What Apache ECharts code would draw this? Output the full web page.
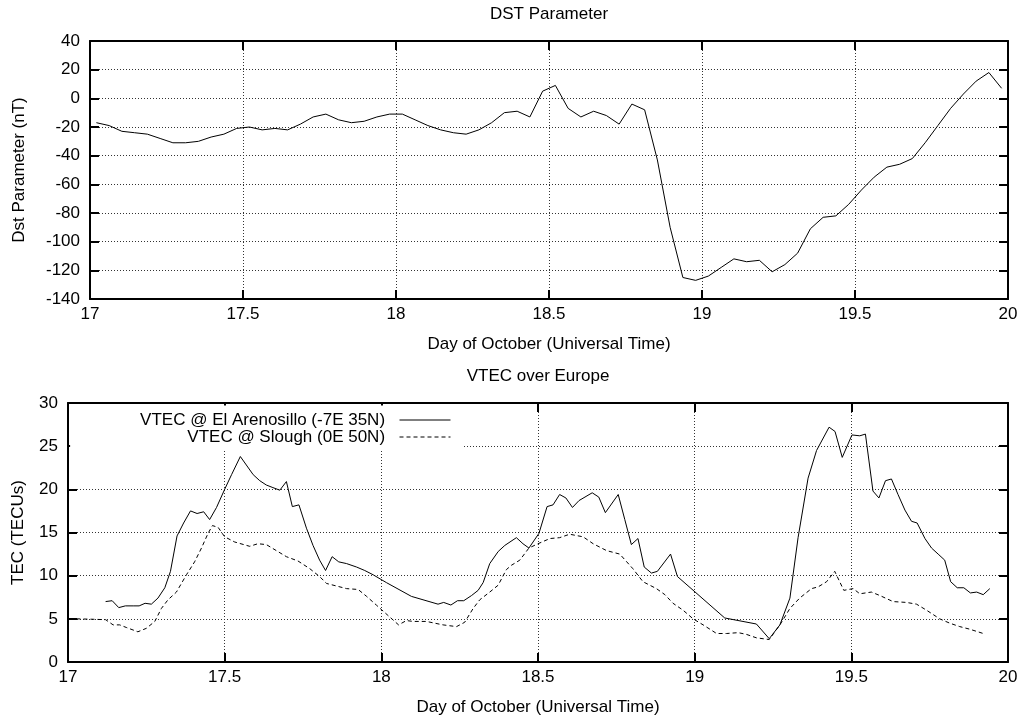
<!DOCTYPE html>
<html lang="en">
<head>
<meta charset="UTF-8">
<title>DST Parameter / VTEC over Europe</title>
<style>
  html, body { margin: 0; padding: 0; background: #fff; }
  #chart { width: 1023px; height: 719px; }
</style>
</head>
<body>
<div id="chart"></div>
<script src="https://cdn.jsdelivr.net/npm/echarts@6/dist/echarts.min.js"></script>
<script>
// hourly Dst index (nT), 17-19 October, one value per hour (centred on the half hour)
var dstFirstDay = 17;
var dstValues = [
  -17, -19, -23, -24, -25, -28, -31, -31, -30, -27, -25, -21,
  -20, -22, -21, -22, -18, -13, -11, -15, -17, -16, -13, -11,
  -11, -15, -19, -22, -24, -25, -22, -17, -10, -9, -13, 5,
  9, -7, -13, -9, -12, -18, -4, -8, -43, -90, -125, -127,
  -124, -118, -112, -114, -113, -121, -116, -108, -91, -83, -82, -74,
  -64, -55, -48, -46, -42, -31, -19, -7, 3, 12, 18, 7
];

// VTEC @ El Arenosillo
var arenosilloDay = [
  17.120, 17.141, 17.162, 17.183, 17.208, 17.227, 17.246, 17.266, 17.287, 17.309,
  17.327, 17.348, 17.369, 17.391, 17.412, 17.433, 17.452, 17.474, 17.500, 17.522,
  17.550, 17.591, 17.612, 17.633, 17.654, 17.676, 17.697, 17.716, 17.737, 17.761,
  17.782, 17.803, 17.822, 17.843, 17.864, 17.889, 17.921, 17.947, 17.974, 18.016,
  18.096, 18.181, 18.199, 18.222, 18.243, 18.263, 18.288, 18.309, 18.325, 18.346,
  18.373, 18.394, 18.431, 18.452, 18.471, 18.503, 18.529, 18.548, 18.569, 18.589,
  18.610, 18.631, 18.673, 18.694, 18.715, 18.756, 18.777, 18.798, 18.819, 18.839,
  18.862, 18.881, 18.923, 18.945, 19.096, 19.197, 19.238, 19.272, 19.304, 19.330,
  19.362, 19.389, 19.429, 19.448, 19.471, 19.502, 19.527, 19.545, 19.569, 19.588,
  19.609, 19.628, 19.649, 19.671, 19.692, 19.710, 19.735, 19.756, 19.777, 19.798,
  19.817, 19.838, 19.859, 19.880, 19.900, 19.921, 19.942
];
var arenosilloTec = [
  7.0, 7.1, 6.3, 6.5, 6.5, 6.5, 6.8, 6.7, 7.4, 8.6,
  10.5, 14.6, 16.1, 17.5, 17.2, 17.4, 16.5, 17.9, 20.0, 21.7,
  23.8, 21.7, 21.0, 20.5, 20.2, 19.9, 20.9, 18.0, 18.2, 15.5,
  13.5, 11.8, 10.6, 12.2, 11.6, 11.4, 11.0, 10.6, 10.1, 9.2,
  7.6, 6.7, 6.9, 6.6, 7.1, 7.1, 7.7, 8.3, 9.2, 11.4,
  12.8, 13.5, 14.4, 13.7, 13.2, 14.9, 18.0, 18.2, 19.4, 19.0,
  17.9, 18.7, 19.6, 19.1, 17.3, 19.4, 16.5, 13.6, 14.3, 11.0,
  10.3, 10.5, 12.5, 9.9, 5.1, 4.4, 2.7, 4.3, 7.4, 14.4,
  21.3, 24.5, 27.2, 26.7, 23.7, 26.3, 26.2, 26.4, 19.8, 19.0,
  21.0, 21.2, 19.4, 17.6, 16.3, 16.1, 14.3, 13.2, 12.5, 11.8,
  9.3, 8.6, 8.6, 8.0, 8.1, 7.8, 8.5
];

// VTEC @ Slough
var sloughDay = [
  17.027, 17.080, 17.120, 17.144, 17.165, 17.186, 17.223, 17.250, 17.277, 17.298,
  17.319, 17.346, 17.378, 17.404, 17.426, 17.447, 17.461, 17.479, 17.500, 17.532,
  17.580, 17.606, 17.633, 17.665, 17.697, 17.734, 17.772, 17.803, 17.825, 17.857,
  17.889, 17.926, 17.953, 17.984, 18.021, 18.055, 18.080, 18.101, 18.144, 18.170,
  18.197, 18.218, 18.240, 18.266, 18.293, 18.314, 18.346, 18.373, 18.399, 18.415,
  18.442, 18.471, 18.500, 18.538, 18.569, 18.601, 18.644, 18.676, 18.719, 18.761,
  18.803, 18.835, 18.878, 18.905, 18.931, 18.963, 18.995, 19.027, 19.070, 19.102,
  19.139, 19.165, 19.197, 19.238, 19.272, 19.304, 19.335, 19.373, 19.394, 19.421,
  19.447, 19.453, 19.476, 19.506, 19.527, 19.564, 19.591, 19.633, 19.676, 19.708,
  19.740, 19.782, 19.814, 19.846, 19.878, 19.921
];
var sloughTec = [
  5.0, 4.95, 4.9, 4.3, 4.3, 4.0, 3.5, 3.9, 4.7, 6.2,
  7.2, 8.1, 10.1, 11.6, 13.2, 14.9, 15.8, 15.6, 14.5, 13.9,
  13.4, 13.7, 13.6, 12.9, 12.2, 11.7, 10.8, 9.9, 9.1, 8.8,
  8.5, 8.4, 7.6, 6.6, 5.4, 4.3, 4.8, 4.7, 4.7, 4.5,
  4.3, 4.2, 4.1, 4.6, 6.2, 7.2, 8.1, 8.9, 10.7, 11.2,
  11.8, 13.2, 13.7, 14.3, 14.4, 14.8, 14.5, 13.7, 12.9, 12.5,
  10.8, 9.3, 8.5, 7.8, 6.8, 6.0, 5.0, 4.3, 3.3, 3.3,
  3.4, 3.2, 2.8, 2.6, 4.3, 6.2, 7.4, 8.5, 8.7, 9.3,
  10.5, 10.3, 8.3, 8.5, 7.9, 8.1, 7.7, 7.0, 6.9, 6.7,
  6.0, 5.0, 4.5, 4.1, 3.8, 3.3
];

var arenosilloName = 'VTEC @ El Arenosillo (-7E 35N)';
var sloughName = 'VTEC @ Slough (0E 50N)';
var dayName = 'Day of October (Universal Time)';

var chart = echarts.init(document.getElementById('chart'));

var FONT = 'Liberation Sans';
var txt = { color: '#000', fontFamily: FONT, fontSize: 17, fontWeight: 'normal' };
var frame = { show: true, onZero: false, lineStyle: { color: '#000', width: 2 } };
var tick = { show: true, inside: true, length: 9, lineStyle: { color: '#000', width: 2 } };
var grid = { show: true, lineStyle: { color: '#333', width: 1, type: [1, 2] } };

function pairs(xs, ys) {
  return xs.map(function (x, i) { return [x, ys[i]]; });
}
var dstData = dstValues.map(function (v, i) { return [dstFirstDay + (i + 0.5) / 24, v]; });

function dayAxes(gi) {
  return [
    { type: 'value', gridIndex: gi, position: 'bottom', min: 17, max: 20, interval: 0.5,
      axisLine: frame, axisTick: tick, splitLine: grid,
      axisLabel: Object.assign({ margin: 7 }, txt),
      name: dayName, nameLocation: 'middle', nameGap: 37, nameTextStyle: txt },
    { type: 'value', gridIndex: gi, position: 'top', min: 17, max: 20, interval: 0.5,
      axisLine: frame, axisTick: tick, splitLine: { show: false }, axisLabel: { show: false } }
  ];
}
function valueAxes(gi, min, max, step, name, gap) {
  return [
    { type: 'value', gridIndex: gi, position: 'left', min: min, max: max, interval: step,
      axisLine: frame, axisTick: tick, splitLine: grid,
      axisLabel: Object.assign({ margin: 10 }, txt),
      name: name, nameLocation: 'middle', nameRotate: 90, nameGap: gap, nameTextStyle: txt },
    { type: 'value', gridIndex: gi, position: 'right', min: min, max: max, interval: step,
      axisLine: frame, axisTick: tick, splitLine: { show: false }, axisLabel: { show: false } }
  ];
}

var option = {
  animation: false,
  textStyle: { fontFamily: FONT },
  title: [
    { text: 'DST Parameter', left: 549, top: 6, textAlign: 'center', padding: 0, textStyle: txt },
    { text: 'VTEC over Europe', left: 538, top: 368, textAlign: 'center', padding: 0, textStyle: txt }
  ],
  // key box: white background keeps the grid out of it, like gnuplot does
  legend: {
    data: [arenosilloName, sloughName],
    orient: 'vertical', align: 'right',
    right: 561, top: 405.5, padding: [6, 11, 4, 70],
    backgroundColor: '#fff',
    itemWidth: 51, itemHeight: 10, itemGap: 0,
    selectedMode: false,
    textStyle: Object.assign({ lineHeight: 17 }, txt),
    formatter: function (n) { return n + '  '; },
    itemStyle: { opacity: 0 },
    lineStyle: { width: 1 }
  },
  grid: [
    { left: 90, right: 15, top: 41, height: 258 },
    { left: 68, right: 15, top: 403, height: 259 }
  ],
  xAxis: dayAxes(0).concat(dayAxes(1)),
  yAxis: valueAxes(0, -140, 40, 20, 'Dst Parameter (nT)', 62)
    .concat(valueAxes(1, 0, 30, 5, 'TEC (TECUs)', 41)),
  series: [
    { name: 'Dst', type: 'line', xAxisIndex: 0, yAxisIndex: 0, data: dstData,
      symbol: 'none', lineStyle: { color: '#000', width: 1 }, silent: true },
    { name: arenosilloName, type: 'line', xAxisIndex: 2, yAxisIndex: 2,
      data: pairs(arenosilloDay, arenosilloTec), symbol: 'none',
      itemStyle: { color: '#000' }, lineStyle: { color: '#000', width: 1 }, silent: true },
    { name: sloughName, type: 'line', xAxisIndex: 2, yAxisIndex: 2,
      data: pairs(sloughDay, sloughTec), symbol: 'none',
      itemStyle: { color: '#000' }, lineStyle: { color: '#000', width: 1, type: [4, 3] }, silent: true }
  ]
};
chart.setOption(option);
</script>
</body>
</html>
